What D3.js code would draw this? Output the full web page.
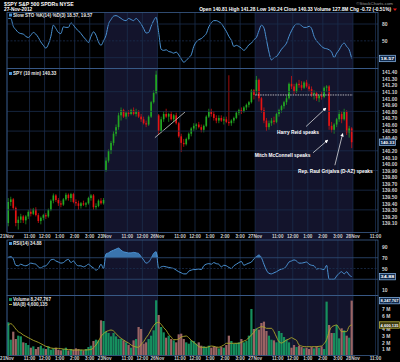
<!DOCTYPE html>
<html>
<head>
<meta charset="utf-8">
<script src="https://cdn.jsdelivr.net/npm/d3@7"></script>
<style>
  body { margin: 0; background: #000; }
  svg { display: block; font-family: "Liberation Sans", Arial, sans-serif; }
</style>
</head>
<body>
<svg id="chart" width="400" height="362"></svg>
<script>
// SPY 10-minute chart, 21-27 Nov 2012 (StockCharts style)

// ---- data ----
const tickIdx = [0, 9, 15, 21, 27, 33, 39, 48, 54, 60, 69, 75, 81, 87, 93, 99, 108, 114, 120, 126, 132, 138, 147];
const tickLbl = ['21Nov', '11:00', '12:00', '1:00', '2:00', '3:00', '23Nov', '11:00', '12:00', '26Nov', '11:00', '12:00', '1:00', '2:00', '3:00', '27Nov', '11:00', '12:00', '1:00', '2:00', '3:00', '28Nov', '11:00'];
const shadedDays = [[39, 60], [99, 138]];

const opens = [
  139.10,139.42,139.46,139.33,139.10,139.15,139.20,139.14,139.20,139.27,139.24,139.31,139.22,139.13,139.18,139.22,139.20,139.30,139.44,139.52,139.45,139.40,139.38,139.46,139.53,139.48,139.54,139.42,139.40,139.36,139.40,139.38,139.40,139.48,139.52,139.34,139.36,139.44,139.40,
  139.90,140.05,140.20,140.32,140.46,140.56,140.74,140.82,140.72,140.78,140.76,140.82,140.76,140.80,140.72,140.68,140.62,140.60,140.72,140.94,141.08,
  140.74,140.50,140.68,140.76,140.72,140.76,140.68,140.74,140.62,140.42,140.32,140.30,140.38,140.46,140.54,140.58,140.60,140.56,140.52,140.58,140.72,140.80,140.76,140.70,140.66,140.70,140.66,140.68,140.64,140.62,140.66,140.70,140.78,140.82,140.80,140.86,140.90,140.94,141.12,
  141.10,141.28,141.00,140.82,140.66,140.56,140.62,140.66,140.64,140.76,140.82,140.88,140.94,141.00,141.22,141.18,141.10,141.22,141.20,141.16,141.24,141.18,141.14,141.06,141.08,141.00,141.04,141.02,141.16,141.18,140.58,140.52,140.60,140.68,140.76,140.68,140.80,140.48,140.54
];
const closes = [
  139.42,139.46,139.33,139.10,139.15,139.20,139.14,139.20,139.27,139.24,139.31,139.22,139.13,139.18,139.22,139.20,139.30,139.44,139.52,139.45,139.40,139.38,139.46,139.53,139.48,139.54,139.42,139.40,139.36,139.40,139.38,139.40,139.48,139.52,139.34,139.36,139.44,139.40,139.45,
  140.05,140.20,140.32,140.46,140.56,140.74,140.82,140.72,140.78,140.76,140.82,140.76,140.80,140.72,140.68,140.62,140.60,140.72,140.94,141.08,141.36,
  140.50,140.68,140.76,140.72,140.76,140.68,140.74,140.62,140.42,140.32,140.30,140.38,140.46,140.54,140.58,140.60,140.56,140.52,140.58,140.72,140.80,140.76,140.70,140.66,140.70,140.66,140.68,140.64,140.62,140.66,140.70,140.78,140.82,140.80,140.86,140.90,140.94,141.12,141.05,
  141.28,141.00,140.82,140.66,140.56,140.62,140.66,140.64,140.76,140.82,140.88,140.94,141.00,141.22,141.18,141.10,141.22,141.20,141.16,141.24,141.18,141.14,141.06,141.08,141.00,141.04,141.02,141.16,141.18,140.58,140.52,140.60,140.68,140.76,140.68,140.80,140.48,140.54,140.33
];
const highs = [
  139.48,139.50,139.48,139.35,139.20,139.24,139.22,139.22,139.30,139.32,139.33,139.34,139.25,139.20,139.24,139.25,139.32,139.46,139.55,139.54,139.48,139.44,139.48,139.56,139.55,139.56,139.56,139.46,139.44,139.42,139.44,139.42,139.50,139.54,139.54,139.40,139.46,139.48,139.48,
  140.10,140.22,140.35,140.50,140.60,140.78,140.86,140.84,140.80,140.82,140.84,140.86,140.84,140.82,140.76,140.72,140.66,140.74,140.96,141.12,141.42,
  140.76,140.72,140.80,140.84,140.78,140.80,140.76,140.78,140.64,140.46,140.38,140.40,140.48,140.56,140.62,140.62,140.64,140.60,140.60,140.74,140.84,140.84,140.80,140.74,140.74,140.74,140.72,140.72,141.35,140.68,140.72,140.80,140.84,140.86,140.88,140.92,140.96,141.14,141.14,
  141.34,141.30,141.02,140.86,140.70,140.66,140.70,140.72,140.78,140.84,140.90,140.96,141.04,141.24,141.34,141.22,141.24,141.28,141.26,141.26,141.28,141.22,141.18,141.12,141.10,141.06,141.10,141.18,141.20,141.20,140.64,140.62,140.70,140.82,140.80,140.84,140.82,140.58,140.56
];
const lows = [
  139.05,139.36,139.30,139.05,139.00,139.10,139.10,139.08,139.16,139.20,139.22,139.20,139.10,139.08,139.14,139.16,139.18,139.28,139.40,139.42,139.36,139.34,139.36,139.44,139.44,139.42,139.40,139.36,139.30,139.32,139.36,139.34,139.38,139.44,139.30,139.30,139.34,139.38,139.38,
  139.88,140.02,140.15,140.28,140.42,140.52,140.66,140.70,140.68,140.72,140.74,140.74,140.72,140.70,140.64,140.60,140.56,140.58,140.70,140.92,141.06,
  140.45,140.48,140.64,140.70,140.64,140.66,140.64,140.60,140.40,140.18,140.26,140.28,140.36,140.42,140.50,140.52,140.54,140.48,140.48,140.56,140.70,140.72,140.66,140.62,140.62,140.64,140.60,140.62,140.58,140.58,140.62,140.68,140.74,140.76,140.78,140.82,140.86,140.92,140.98,
  141.05,140.95,140.78,140.62,140.50,140.52,140.58,140.60,140.62,140.72,140.78,140.84,140.90,140.98,141.14,141.06,141.08,141.16,141.12,141.14,141.16,141.10,141.02,140.98,140.96,140.94,140.98,141.00,141.10,140.52,140.48,140.46,140.56,140.64,140.62,140.66,140.44,140.40,140.24
];

const stoK = [
  90,90,76,70,65,63,62,58,56,60, 65,62,56,48,42,37,44,58,78,72, 65,63,75,74,74,82,78,72,68,63,
  57,52,47,58,66,60,48,42,50,60, 80,88,94,95,93,90,87,86,90,88, 86,90,86,80,72,64,65,76,86,92,
  65,35,33,34,31,30,28,30,25,18, 12,15,20,25,40,48,52,54,58,63, 75,82,86,86,84,81,74,67,58,51,
  40,42,40,37,33,37,43,46,52,56, 68,78,73,52,30,16,20,22,28,35, 40,46,58,68,76,80,80,77,74,74,
  76,72,58,50,45,40,37,36,34,30, 20,28,34,42,46,40,34,18.57
];
const rsi = [
  71,72,68,56,55,58,56,55,57,60, 59,58,53,51,54,55,60,66,67,64, 62,60,61,65,67,61,64,58,55,55,
  53,55,58,54,51,47,50,58,50,77, 79,82,84,86,88,84,81,80,79,79, 80,79,78,72,66,60,62,69,78,81,
  50,53,54,53,52,51,50,47,44,42, 40,40,45,47,48,48,49,48,55,58, 59,58,61,59,58,53,56,55,52,50,
  55,58,61,63,56,58,60,62,68,72, 75,70,58,47,41,40,42,44,47,49, 50,55,62,64,66,64,60,60,61,62,
  58,56,55,49,50,49,48,56,30,30, 30,36,41,44,40,44,38,34.88
];
const volume = [
  5.0,2.4,3.6,2.5,3.0,2.9,2.0,1.9,1.6,1.2,1.4,1.0,1.3,1.5,1.1,1.0,1.4,0.9,1.1,1.2,0.9,0.8,1.0,1.2,0.8,1.0,0.9,1.1,1.0,0.9,0.8,1.0,1.3,1.5,2.2,2.4,2.3,5.3,5.2,
  3.6,3.4,2.9,3.4,2.9,2.5,2.5,2.3,2.0,1.6,1.2,2.3,2.5,4.3,4.0,1.8,2.0,2.5,3.0,3.8,8.3,
  6.1,4.3,3.5,2.7,3.0,2.5,2.3,2.0,3.2,3.3,2.5,2.0,1.8,2.3,2.2,1.8,2.0,1.5,1.4,1.3,1.5,1.2,1.4,1.3,1.1,1.3,1.2,1.6,3.0,2.2,1.8,1.9,2.0,2.5,2.0,2.2,3.0,7.0,4.0,
  4.1,3.9,4.9,5.1,3.7,3.0,2.4,2.3,2.0,3.7,3.4,2.8,2.4,2.0,1.2,1.6,1.3,1.5,1.3,1.1,1.2,1.0,1.3,1.1,1.4,1.2,1.4,1.0,8.1,4.6,3.4,3.4,4.6,2.6,4.1,3.8,3.0,2.7,8.25
];
const volMA = [
  4.6,4.8,4.5,4.0,3.6,3.4,3.1,2.9,2.7,2.5, 2.3,2.15,2.0,1.8,1.6,1.4,1.3,1.15,1.1,1.1, 1.1,1.05,1.0,0.96,0.92,0.88,0.85,0.85,0.85,0.85,
  0.85,0.85,0.88,0.92,1.2,1.6,2.2,2.9,3.3,3.6, 3.75,3.85,3.7,3.3,2.9,2.6,2.35,2.1,1.9,1.6, 1.4,1.3,1.26,1.7,2.1,2.7,3.2,3.9,4.5,4.9,
  5.0,4.7,4.2,3.8,3.2,2.8,2.4,2.4,2.5,2.8, 2.9,2.95,2.7,2.3,2.0,1.7,1.35,1.26,1.26,1.26, 1.35,1.45,1.4,1.3,1.26,1.4,1.6,1.86,1.86,1.86,
  1.86,1.86,1.86,2.0,2.2,2.35,2.7,3.1,3.5,4.0, 4.2,4.35,4.3,4.1,4.1,4.1,3.6,2.8,2.1,1.9, 2.1,2.35,2.5,2.7,2.5,2.3,1.6,1.45,1.35,1.35,
  1.35,1.35,1.35,1.35,1.4,1.45,1.8,2.4,3.6,4.3, 4.5,4.6,4.1,3.6,3.6,3.6,4.4,4.6
];

const priceTicks = [139.1,139.2,139.3,139.4,139.5,139.6,139.7,139.8,139.9,140.0,140.1,140.2,140.4,140.5,140.6,140.7,140.8,140.9,141.0,141.1,141.2,141.3,141.4];
const priceGrid = [139.3, 139.6, 139.9, 140.2, 140.5, 140.8, 141.1];
const stoTicks = [80, 50];
const rsiTicks = [10, 50, 70, 90];
const volTicks = [1, 2, 3, 4, 6, 7];
const volTickLbl = ['1 M', '2 M', '3 M', '4 M', '6 M', '7 M'];
const prevClose = 141.05;

// annotations: bar index / price
const trendLine = [[59.0, 140.40], [71.0, 140.79]];
const notes = [
  { text: 'Harry Reid speaks', at: [116.1, 140.45], from: [119.3, 140.57], to: [127.2, 140.85] },
  { text: 'Mitch McConnell speaks', at: [109.9, 140.11], from: [122.1, 140.17], to: [127.9, 140.36] },
  { text: 'Rep. Raul Grijalva (D-AZ) speaks', at: [131.0, 139.86], from: [130.8, 139.98], to: [133.9, 140.46] }
];

// ---- layout ----
const LEFT = 7, RIGHT = 378;
const STO_TOP = 12.5, STO_BOTTOM = 68.5;
const PRICE_TOP = 68.5, PRICE_BOTTOM = 232.5;
const RSI_TOP = 240, RSI_BOTTOM = 295.5;
const VOL_TOP = 295.5, VOL_BOTTOM = 355.5;

const GRID = '#1a2d4c';
const BORDER = '#3b5d8a';
const SHADE = '#13142c';
const LINE_BLUE = '#4b93d4';
const UP = '#22a822', DOWN = '#e51313';
const VOL_UP = '#168f5e', VOL_DOWN = '#9a6464';
const MA_COLOR = '#b0a82a';
const AXIS_TEXT = '#cfcfcf';

const svg = d3.select('#chart');
const x = d3.scaleLinear().domain([0, 148]).range([LEFT, RIGHT]);
const barW = x(1) - x(0);
const yPrice = d3.scaleLinear().domain([139.10, 141.40]).range([223, 72]);
const ySto = d3.scaleLinear().domain([0, 100]).range([68.9, 12.8]);
const yRsi = d3.scaleLinear().domain([0, 100]).range([295.4, 241.6]);
const yVol = d3.scaleLinear().domain([0, 8]).range([355.7, 302.3]);

svg.append('rect').attr('width', 400).attr('height', 362).attr('fill', '#000');

// day shading across all panels
svg.selectAll('.shade')
  .data(shadedDays)
  .enter()
  .append('rect')
  .attr('class', 'shade')
  .attr('x', d => x(d[0]))
  .attr('y', STO_TOP)
  .attr('width', d => x(d[1]) - x(d[0]))
  .attr('height', VOL_BOTTOM - STO_TOP)
  .attr('fill', SHADE);

// Set up one panel: clip, vertical grid
function setupPanel(id, top, bottom) {
  svg.append('clipPath').attr('id', id)
    .append('rect')
    .attr('x', LEFT).attr('y', top)
    .attr('width', RIGHT - LEFT).attr('height', bottom - top);

  svg.append('g').selectAll('line')
    .data(tickIdx)
    .enter()
    .append('line')
    .attr('x1', d => x(d)).attr('x2', d => x(d))
    .attr('y1', top).attr('y2', bottom)
    .attr('stroke', GRID)
    .attr('stroke-width', 0.8);

  return svg.append('g').attr('clip-path', `url(#${id})`);
}

function hLine(y, dashed, color) {
  svg.append('line')
    .attr('x1', LEFT).attr('x2', RIGHT)
    .attr('y1', y).attr('y2', y)
    .attr('stroke', color || GRID)
    .attr('stroke-width', 0.8)
    .attr('stroke-dasharray', dashed ? '2,1.5' : null);
}

function rightLabels(scale, values, fmt) {
  const axis = d3.axisRight(scale).tickValues(values).tickSize(0).tickFormat(fmt);
  const g = svg.append('g').attr('transform', `translate(${RIGHT + 2},0)`).call(axis);
  g.select('.domain').remove();
  g.selectAll('text')
    .attr('fill', AXIS_TEXT)
    .attr('font-size', 5)
    .attr('font-weight', 'bold')
    .attr('x', 2)
    .attr('dy', '0.35em');
}

// value tag on the right axis, kept inside the picture
function valueBox(y, text, stroke, fill, w) {
  const bw = w || 16;
  svg.append('rect')
    .attr('x', RIGHT + 1.5).attr('y', y - 3.2)
    .attr('width', bw).attr('height', 6.4)
    .attr('fill', fill).attr('stroke', stroke).attr('stroke-width', 0.7);
  svg.append('text')
    .attr('x', RIGHT + 2.6).attr('y', y + 1.7)
    .attr('font-size', 4.4).attr('font-weight', 'bold')
    .attr('fill', '#fff')
    .attr('textLength', bw - 2.2)
    .attr('lengthAdjust', 'spacingAndGlyphs')
    .text(text);
}

function legend(x0, y, text, color, icon) {
  if (icon === 'line') {
    svg.append('line').attr('x1', x0).attr('x2', x0 + 3).attr('y1', y - 1.5).attr('y2', y - 1.5)
      .attr('stroke', color).attr('stroke-width', 1);
  } else {
    svg.append('rect').attr('x', x0).attr('y', y - 3).attr('width', 3).attr('height', 3).attr('fill', color);
  }
  svg.append('text')
    .attr('x', x0 + 4).attr('y', y)
    .attr('font-size', 4.6).attr('font-weight', 'bold')
    .attr('fill', '#e6e6e6')
    .text(text);
}

function panelBorder(top, bottom) {
  svg.append('rect')
    .attr('x', LEFT).attr('y', top)
    .attr('width', RIGHT - LEFT).attr('height', bottom - top)
    .attr('fill', 'none').attr('stroke', BORDER).attr('stroke-width', 0.8);
}

// ---- Slow STO panel ----
const stoG = setupPanel('clip-sto', STO_TOP, STO_BOTTOM);
hLine(ySto(80)); hLine(ySto(50), true); hLine(ySto(20));
stoG.append('path')
  .datum(stoK)
  .attr('fill', 'none')
  .attr('stroke', LINE_BLUE)
  .attr('stroke-width', 1)
  .attr('d', d3.line().x((d, i) => x(i + 0.5)).y(d => ySto(d)).curve(d3.curveMonotoneX));
panelBorder(STO_TOP, STO_BOTTOM);
rightLabels(ySto, stoTicks, d3.format('d'));
valueBox(ySto(stoK[stoK.length - 1]), '18.57', '#8fbdf0', '#102a4d');
legend(9, 16.5, 'Slow STO %K(14) %D(3) 18.57, 19.57', LINE_BLUE);

// ---- price panel ----
const priceG = setupPanel('clip-price', PRICE_TOP, PRICE_BOTTOM);
priceGrid.forEach(p => hLine(yPrice(p)));

const bars = d3.range(closes.length);
priceG.selectAll('.wick')
  .data(bars)
  .enter()
  .append('line')
  .attr('class', 'wick')
  .attr('x1', i => x(i + 0.5)).attr('x2', i => x(i + 0.5))
  .attr('y1', i => yPrice(highs[i])).attr('y2', i => yPrice(lows[i]))
  .attr('stroke', i => closes[i] >= opens[i] ? UP : DOWN)
  .attr('stroke-width', 0.7);

priceG.selectAll('.body')
  .data(bars)
  .enter()
  .append('rect')
  .attr('class', 'body')
  .attr('x', i => x(i + 0.5) - barW * 0.33)
  .attr('width', barW * 0.66)
  .attr('y', i => yPrice(Math.max(opens[i], closes[i])))
  .attr('height', i => Math.max(0.8, Math.abs(yPrice(opens[i]) - yPrice(closes[i]))))
  .attr('fill', i => closes[i] >= opens[i] ? UP : DOWN);

// previous close line over the last day
priceG.append('line')
  .attr('x1', x(shadedDays[1][0])).attr('x2', x(shadedDays[1][1]))
  .attr('y1', yPrice(prevClose)).attr('y2', yPrice(prevClose))
  .attr('stroke', '#e0e0e0').attr('stroke-width', 0.8).attr('stroke-dasharray', '1.5,1');

// trend line
priceG.append('line')
  .attr('x1', x(trendLine[0][0])).attr('y1', yPrice(trendLine[0][1]))
  .attr('x2', x(trendLine[1][0])).attr('y2', yPrice(trendLine[1][1]))
  .attr('stroke', '#cfcfcf').attr('stroke-width', 0.8);

// arrows and notes
svg.append('defs').append('marker')
  .attr('id', 'head')
  .attr('viewBox', '0 0 10 10')
  .attr('refX', 8).attr('refY', 5)
  .attr('markerWidth', 5).attr('markerHeight', 5)
  .attr('orient', 'auto')
  .append('path').attr('d', 'M0,0 L10,5 L0,10 z').attr('fill', '#fff');

notes.forEach(n => {
  svg.append('line')
    .attr('x1', x(n.from[0])).attr('y1', yPrice(n.from[1]))
    .attr('x2', x(n.to[0])).attr('y2', yPrice(n.to[1]))
    .attr('stroke', '#f0f0f0').attr('stroke-width', 0.7)
    .attr('marker-end', 'url(#head)');
  svg.append('text')
    .attr('x', x(n.at[0])).attr('y', yPrice(n.at[1]))
    .attr('text-anchor', 'middle')
    .attr('font-size', 4.8).attr('font-weight', 'bold')
    .attr('fill', '#fff')
    .text(n.text);
});

panelBorder(PRICE_TOP, PRICE_BOTTOM);
rightLabels(yPrice, priceTicks, d3.format('.2f'));
valueBox(yPrice(closes[closes.length - 1]), '140.33', '#8fbdf0', '#102a4d');
legend(9, 75, 'SPY (10 min) 140.33', LINE_BLUE);

// x axis labels
function xLabels(y) {
  svg.append('g').selectAll('text')
    .data(tickIdx)
    .enter()
    .append('text')
    .attr('x', d => x(d))
    .attr('y', y)
    .attr('text-anchor', 'middle')
    .attr('font-size', 4.6).attr('font-weight', 'bold')
    .attr('fill', AXIS_TEXT)
    .text((d, i) => tickLbl[i]);
}
xLabels(238);

// ---- RSI panel ----
const rsiG = setupPanel('clip-rsi', RSI_TOP, RSI_BOTTOM);
hLine(yRsi(70), false, '#2f4e78'); hLine(yRsi(50), true); hLine(yRsi(30), false, '#2f4e78');
rsiG.append('path')
  .datum(rsi)
  .attr('fill', '#3a74ad')
  .attr('d', d3.area()
    .x((d, i) => x(i + 0.5))
    .y0(yRsi(70))
    .y1(d => yRsi(Math.max(70, d)))
    .curve(d3.curveMonotoneX));
rsiG.append('path')
  .datum(rsi)
  .attr('fill', 'none')
  .attr('stroke', LINE_BLUE)
  .attr('stroke-width', 1)
  .attr('d', d3.line().x((d, i) => x(i + 0.5)).y(d => yRsi(d)).curve(d3.curveMonotoneX));
panelBorder(RSI_TOP, RSI_BOTTOM);
rightLabels(yRsi, rsiTicks, d3.format('d'));
valueBox(yRsi(rsi[rsi.length - 1]), '34.88', '#8fbdf0', '#102a4d');
legend(9, 245, 'RSI(14) 34.88', LINE_BLUE);

// ---- volume panel ----
const volG = setupPanel('clip-vol', VOL_TOP, VOL_BOTTOM);
volG.selectAll('.vol')
  .data(volume)
  .enter()
  .append('rect')
  .attr('class', 'vol')
  .attr('x', (d, i) => x(i) + 0.15)
  .attr('width', barW - 0.3)
  .attr('y', d => yVol(d))
  .attr('height', d => yVol(0) - yVol(d))
  .attr('fill', (d, i) => closes[i] >= opens[i] ? VOL_UP : VOL_DOWN);
volG.append('path')
  .datum(volMA)
  .attr('fill', 'none')
  .attr('stroke', MA_COLOR)
  .attr('stroke-width', 0.9)
  .attr('d', d3.line().x((d, i) => x(i + 0.5)).y(d => yVol(d)).curve(d3.curveMonotoneX));
panelBorder(VOL_TOP, VOL_BOTTOM);
rightLabels(yVol, volTicks, (d, i) => volTickLbl[i]);
valueBox(yVol(volume[volume.length - 1]), '8,247,767', '#8fbdf0', '#102a4d', 20);
valueBox(yVol(volMA[volMA.length - 1]), '4,600,135', '#c8c040', '#3a3810', 20);
legend(9, 301, 'Volume 8,247,767', VOL_UP);
legend(9, 306, 'MA(8) 4,600,135', MA_COLOR, 'line');
xLabels(360);

// ---- header ----
svg.append('text').attr('x', 4).attr('y', 5.5)
  .attr('font-size', 5.2).attr('font-weight', 'bold').attr('fill', '#fff')
  .text('$SPY S&P 500 SPDRs NYSE');
svg.append('text').attr('x', 4).attr('y', 10.8)
  .attr('font-size', 4.8).attr('font-weight', 'bold').attr('fill', '#fff')
  .text('27-Nov-2012');
svg.append('text').attr('x', 393).attr('y', 5)
  .attr('text-anchor', 'end')
  .attr('font-size', 4.4).attr('fill', '#9a9a9a')
  .text('©StockCharts.com');
svg.append('text').attr('x', 391).attr('y', 10.8)
  .attr('text-anchor', 'end')
  .attr('font-size', 4.8).attr('font-weight', 'bold').attr('fill', '#fff')
  .text('Open 140.81  High 141.28  Low 140.24  Close 140.33  Volume 127.8M  Chg -0.72 (-0.51%)');
svg.append('path')
  .attr('d', 'M393,8.5 L397,8.5 L395,11 Z')
  .attr('fill', '#e51313');
</script>
</body>
</html>
